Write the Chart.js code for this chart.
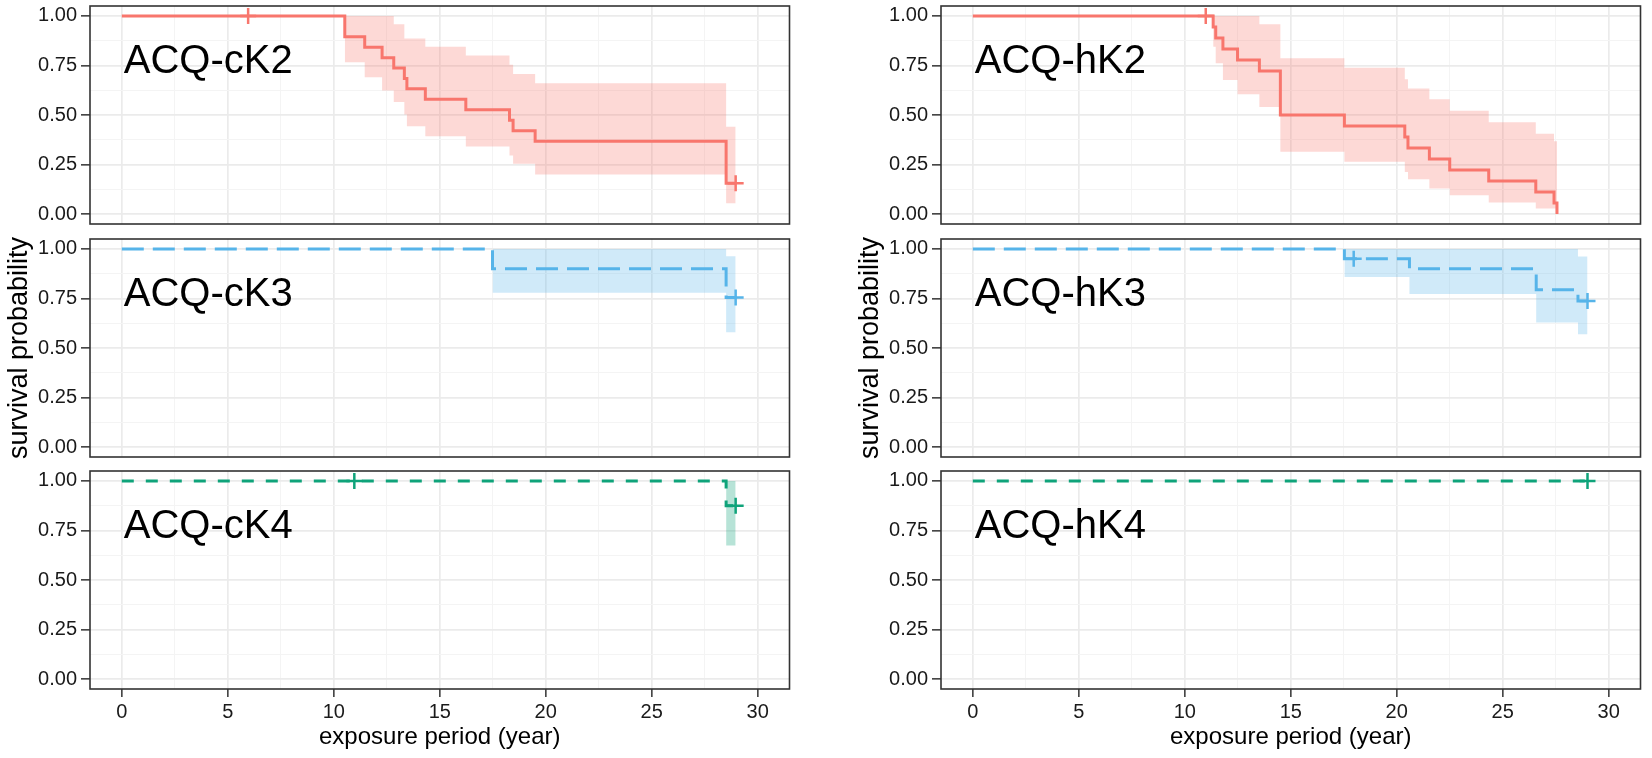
<!DOCTYPE html>
<html>
<head>
<meta charset="utf-8">
<script src="https://cdn.jsdelivr.net/npm/chart.js@4.4.1/dist/chart.umd.min.js"></script>
<style>
  html, body { margin: 0; padding: 0; background: #ffffff; width: 1652px; height: 758px; overflow: hidden; }
  .pn { position: absolute; }
  .pn canvas { display: block; }
</style>
</head>
<body>
<script>
// ---------------- DATA ----------------
const X_TICKS  = [0, 2.5, 5, 7.5, 10, 12.5, 15, 17.5, 20, 22.5, 25, 27.5, 30];
const X_LABELS = ['0', '', '5', '', '10', '', '15', '', '20', '', '25', '', '30'];
const Y_TICKS  = [0, 0.125, 0.25, 0.375, 0.5, 0.625, 0.75, 0.875, 1];
const Y_LABELS = ['0.00', '', '0.25', '', '0.50', '', '0.75', '', '1.00'];

// ACQ-cK2
const cK2_time   = [0, 10.52, 11.46, 12.28, 12.83, 13.33, 13.45, 14.32, 16.23, 18.29, 18.46, 19.50, 28.51, 28.96];
const cK2_surv   = [1, 0.895, 0.842, 0.789, 0.737, 0.684, 0.632, 0.579, 0.526, 0.474, 0.421, 0.368, 0.155, 0.155];
const cK2_ciTime = [10.52, 11.46, 12.28, 12.83, 13.33, 13.45, 14.32, 16.23, 18.29, 18.46, 19.50, 28.51, 28.96];
const cK2_upper  = [1, 1, 1, 0.958, 0.886, 0.886, 0.845, 0.800, 0.753, 0.707, 0.660, 0.441, 0.441];
const cK2_lower  = [0.766, 0.691, 0.624, 0.565, 0.502, 0.443, 0.393, 0.341, 0.296, 0.254, 0.200, 0.055, 0.055];
const cK2_censorTime = [5.96, 28.96];
const cK2_censorSurv = [1, 0.155];

// ACQ-hK2
const hK2_time   = [0, 11.34, 11.46, 11.80, 12.49, 13.52, 14.51, 17.53, 20.38, 20.53, 21.54, 22.50, 24.34, 26.56, 27.42, 27.56];
const hK2_surv   = [1, 0.944, 0.889, 0.833, 0.778, 0.722, 0.500, 0.444, 0.389, 0.333, 0.278, 0.222, 0.167, 0.111, 0.056, 0];
const hK2_ciTime = [11.34, 11.46, 11.80, 12.49, 13.52, 14.51, 17.53, 20.38, 20.53, 21.54, 22.50, 24.34, 26.56, 27.42, 27.56];
const hK2_upper  = [1, 1, 1, 1, 0.958, 0.786, 0.739, 0.680, 0.634, 0.580, 0.522, 0.463, 0.405, 0.368, 0.368];
const hK2_lower  = [0.845, 0.761, 0.677, 0.605, 0.540, 0.314, 0.264, 0.212, 0.176, 0.129, 0.095, 0.059, 0.028, 0.028, 0.028];
const hK2_censorTime = [10.99];
const hK2_censorSurv = [1];

// ACQ-cK3
const cK3_time   = [0, 17.49, 28.51, 28.96];
const cK3_surv   = [1, 0.900, 0.755, 0.755];
const cK3_ciTime = [17.49, 28.51, 28.96];
const cK3_upper  = [1, 0.963, 0.963];
const cK3_lower  = [0.779, 0.580, 0.580];
const cK3_censorTime = [28.96];
const cK3_censorSurv = [0.755];

// ACQ-hK3
const hK3_time   = [0, 17.53, 20.60, 26.58, 28.55, 29.0];
const hK3_surv   = [1, 0.950, 0.900, 0.794, 0.737, 0.737];
const hK3_ciTime = [17.53, 20.60, 26.58, 28.55, 29.0];
const hK3_upper  = [1, 1, 1, 0.962, 0.962];
const hK3_lower  = [0.858, 0.773, 0.629, 0.569, 0.569];
const hK3_censorTime = [17.97, 29.0];
const hK3_censorSurv = [0.950, 0.737];

// ACQ-cK4
const cK4_time   = [0, 28.51, 28.96];
const cK4_surv   = [1, 0.875, 0.875];
const cK4_ciTime = [28.51, 28.96];
const cK4_upper  = [1, 1];
const cK4_lower  = [0.674, 0.674];
const cK4_censorTime = [10.97, 28.96];
const cK4_censorSurv = [1, 0.875];

// ACQ-hK4
const hK4_time   = [0, 29.0];
const hK4_surv   = [1, 1];
const hK4_ciTime = [];
const hK4_upper  = [];
const hK4_lower  = [];
const hK4_censorTime = [29.0];
const hK4_censorSurv = [1];

const PANEL_LABELS = ['ACQ-cK2', 'ACQ-hK2', 'ACQ-cK3', 'ACQ-hK3', 'ACQ-cK4', 'ACQ-hK4'];
const X_TITLE = 'exposure period (year)';
const Y_TITLE = 'survival probability';

// ---------------- STYLE / LAYOUT ----------------
const FONT = '"Liberation Sans", Arial, Helvetica, sans-serif';
Chart.defaults.font.family = FONT;
const STYLES = {
  K2: { line: '#F8766D', fill: 'rgba(248,118,109,0.28)', dash: [] },
  K3: { line: '#56B4E9', fill: 'rgba(86,180,233,0.28)', dash: [22, 9] },
  K4: { line: '#0FA37A', fill: 'rgba(15,163,122,0.30)', dash: [12, 12] }
};
const COL_LEFT = [0, 851];
const ROW_TOP = [6, 239, 471];
const PANEL_H = 218;
const CANVAS_W = 800;
const PAD = 20;
const LABEL_POS = { x: 0, y: 0.71 };

function pts(xs, ys) { return xs.map((x, i) => ({ x: x, y: ys[i] })); }
function isMajorX(v) { return Math.abs(v / 5 - Math.round(v / 5)) < 1e-9; }
function isMajorY(v) { return Math.abs(v * 4 - Math.round(v * 4)) < 1e-9; }

const decoPlugin = {
  id: 'deco',
  afterDatasetsDraw(chart, args, opts) {
    const { ctx, scales } = chart;
    ctx.save();
    ctx.font = '40px ' + FONT;
    ctx.fillStyle = '#000000';
    ctx.textAlign = 'left';
    ctx.textBaseline = 'alphabetic';
    ctx.fillText(opts.label, scales.x.getPixelForValue(LABEL_POS.x) + 2, scales.y.getPixelForValue(LABEL_POS.y));
    ctx.restore();
  },
  afterDraw(chart) {
    const { ctx, chartArea: a } = chart;
    ctx.save();
    ctx.strokeStyle = '#333333';
    ctx.lineWidth = 1.6;
    ctx.strokeRect(a.left, a.top, a.right - a.left, a.bottom - a.top);
    ctx.restore();
  }
};

const PANELS = [
  { label: PANEL_LABELS[0], key: 'K2', col: 0, row: 0, t: cK2_time, s: cK2_surv, ct: cK2_ciTime, up: cK2_upper, lo: cK2_lower, xt: cK2_censorTime, xs: cK2_censorSurv },
  { label: PANEL_LABELS[1], key: 'K2', col: 1, row: 0, t: hK2_time, s: hK2_surv, ct: hK2_ciTime, up: hK2_upper, lo: hK2_lower, xt: hK2_censorTime, xs: hK2_censorSurv },
  { label: PANEL_LABELS[2], key: 'K3', col: 0, row: 1, t: cK3_time, s: cK3_surv, ct: cK3_ciTime, up: cK3_upper, lo: cK3_lower, xt: cK3_censorTime, xs: cK3_censorSurv },
  { label: PANEL_LABELS[3], key: 'K3', col: 1, row: 1, t: hK3_time, s: hK3_surv, ct: hK3_ciTime, up: hK3_upper, lo: hK3_lower, xt: hK3_censorTime, xs: hK3_censorSurv },
  { label: PANEL_LABELS[4], key: 'K4', col: 0, row: 2, t: cK4_time, s: cK4_surv, ct: cK4_ciTime, up: cK4_upper, lo: cK4_lower, xt: cK4_censorTime, xs: cK4_censorSurv },
  { label: PANEL_LABELS[5], key: 'K4', col: 1, row: 2, t: hK4_time, s: hK4_surv, ct: hK4_ciTime, up: hK4_upper, lo: hK4_lower, xt: hK4_censorTime, xs: hK4_censorSurv }
];

PANELS.forEach((p) => {
  const isBottom = p.row === 2;
  const isMiddle = p.row === 1;
  const st = STYLES[p.key];
  const top = ROW_TOP[p.row] - PAD;
  const height = isBottom ? (758 - top) : (PANEL_H + 2 * PAD);

  const div = document.createElement('div');
  div.className = 'pn';
  div.style.left = COL_LEFT[p.col] + 'px';
  div.style.top = top + 'px';
  div.style.width = CANVAS_W + 'px';
  div.style.height = height + 'px';
  const canvas = document.createElement('canvas');
  canvas.width = CANVAS_W;
  canvas.height = height;
  canvas.style.width = CANVAS_W + 'px';
  canvas.style.height = height + 'px';
  div.appendChild(canvas);
  document.body.appendChild(div);

  const datasets = [
    { data: pts(p.xt, p.xs), showLine: false, pointStyle: 'cross', pointRadius: 8, pointHoverRadius: 8,
      pointBorderWidth: 2.5, borderColor: st.line, backgroundColor: st.line, order: 0 },
    { data: pts(p.t, p.s), borderColor: st.line, borderWidth: 3, borderDash: st.dash, stepped: true,
      pointRadius: 0, fill: false, order: 1, borderCapStyle: 'butt' }
  ];
  if (p.ct.length) {
    datasets.push({ data: pts(p.ct, p.up), borderColor: 'rgba(0,0,0,0)', borderWidth: 0, stepped: true, pointRadius: 0, fill: false, order: 2 });
    datasets.push({ data: pts(p.ct, p.lo), borderColor: 'rgba(0,0,0,0)', borderWidth: 0, stepped: true, pointRadius: 0, fill: 2, backgroundColor: st.fill, order: 2 });
  }

  new Chart(canvas, {
    type: 'line',
    data: { datasets: datasets },
    plugins: [decoPlugin],
    options: {
      responsive: false,
      maintainAspectRatio: false,
      animation: false,
      devicePixelRatio: 1,
      layout: { padding: { top: PAD, right: 6, bottom: isBottom ? 0 : PAD, left: 0 } },
      plugins: { legend: { display: false }, tooltip: { enabled: false }, deco: { label: p.label } },
      scales: {
        x: {
          type: 'linear', min: -1.5, max: 31.5,
          afterBuildTicks: (s) => { s.ticks = X_TICKS.map((v) => ({ value: v })); },
          afterFit: (s) => { s.height = isBottom ? 69 : 0; },
          ticks: { display: isBottom, autoSkip: false, maxRotation: 0, padding: 3,
                   callback: (v, i) => X_LABELS[i], font: { size: 20 }, color: '#1a1a1a' },
          grid: {
            drawTicks: isBottom, tickLength: 8,
            color: (c) => isMajorX(c.tick.value) ? '#EBEBEB' : '#F4F4F4',
            lineWidth: (c) => isMajorX(c.tick.value) ? 1.7 : 1,
            tickColor: (c) => isMajorX(c.tick.value) ? '#333333' : 'rgba(0,0,0,0)',
            tickWidth: 1.5
          },
          border: { display: false },
          title: { display: isBottom, text: X_TITLE, font: { size: 24 }, color: '#000000', padding: { top: 0, bottom: 6 } }
        },
        y: {
          type: 'linear', min: -0.05, max: 1.05,
          afterBuildTicks: (s) => { s.ticks = Y_TICKS.map((v) => ({ value: v })); },
          afterFit: (s) => { s.width = 90; },
          ticks: { autoSkip: false, padding: 4, callback: (v, i) => Y_LABELS[i], font: { size: 20 }, color: '#1a1a1a' },
          grid: {
            drawTicks: true, tickLength: 9,
            color: (c) => isMajorY(c.tick.value) ? '#EBEBEB' : '#F4F4F4',
            lineWidth: (c) => isMajorY(c.tick.value) ? 1.7 : 1,
            tickColor: (c) => isMajorY(c.tick.value) ? '#333333' : 'rgba(0,0,0,0)',
            tickWidth: 1.5
          },
          border: { display: false },
          title: { display: isMiddle, text: Y_TITLE, font: { size: 27 }, color: '#000000', padding: { top: 3, bottom: 0 } }
        }
      }
    }
  });
});
</script>
</body>
</html>
